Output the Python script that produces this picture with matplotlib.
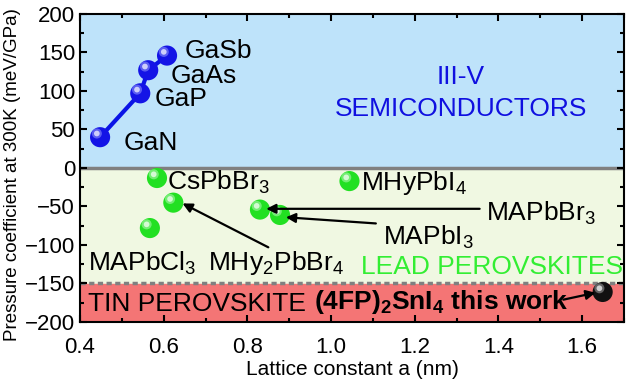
import matplotlib
matplotlib.use("Agg")
import matplotlib.pyplot as plt
import numpy as np
from matplotlib.ticker import MultipleLocator

plt.rcParams['font.family'] = ['Liberation Sans', 'DejaVu Sans']
plt.rcParams['mathtext.fontset'] = 'custom'
plt.rcParams['mathtext.rm'] = 'Liberation Sans'
plt.rcParams['mathtext.bf'] = 'Liberation Sans:bold'

# III-V semiconductors
iii_v_names = ["GaN", "GaP", "GaAs", "GaSb"]
iii_v_a = [0.448, 0.544, 0.563, 0.608]
iii_v_dp = [40, 97, 127, 146]

# Lead perovskites
pb_names = ["CsPbBr$_3$", "MHy$_2$PbBr$_4$", "MAPbCl$_3$", "MAPbBr$_3$", "MAPbI$_3$", "MHyPbI$_4$"]
pb_a = [0.584, 0.623, 0.567, 0.830, 0.878, 1.044]
pb_dp = [-13, -45, -78, -54, -61, -17]

# Tin perovskite (this work)
sn_a = [1.649]
sn_dp = [-161]

fig = plt.figure(figsize=(6.38, 3.89), dpi=100)
ax = fig.add_axes([80/638, 1 - 322/389, (624-80)/638, (322-14)/389])
ax.set_xlim(0.4, 1.7)
ax.set_ylim(-200, 200)

ax.axhspan(0, 200, color='#BEE3FA', zorder=0)
ax.axhspan(-150, 0, color='#F0F8E2', zorder=0)
ax.axhspan(-200, -150, color='#F47575', zorder=0)
ax.axhline(0, color='#808080', lw=2.5, zorder=1)
ax.axhline(-150, color='#808080', lw=2.5, ls=(0, (1.5, 1)), zorder=1)

def balls(x, y, color, light, s=210):
    ax.scatter(x, y, s=s, color=color, zorder=5, edgecolors='none')
    dx = 1.3 * 0.006
    dy = 400 * 0.012
    ax.scatter(np.array(x) - dx, np.array(y) + dy, s=s*0.25, color=light, zorder=6, edgecolors='none', alpha=0.45)
    ax.scatter(np.array(x) - dx, np.array(y) + dy, s=s*0.08, color='white', zorder=6, edgecolors='none', alpha=0.7)

ax.plot(iii_v_a, iii_v_dp, color='#0A14E6', lw=3, zorder=4)
balls(iii_v_a, iii_v_dp, '#1414E6', '#B0B8FF')
balls(pb_a, pb_dp, '#22E022', '#D8FFD8')
balls(sn_a, sn_dp, '#111111', '#C8C8C8')

fs = 19
ax.text(0.65, 152, "GaSb", fontsize=fs, va='center')
ax.text(0.617, 119, "GaAs", fontsize=fs, va='center')
ax.text(0.579, 90, "GaP", fontsize=fs, va='center')
ax.text(0.505, 33, "GaN", fontsize=fs, va='center')
ax.text(1.31, 118, "III-V", fontsize=19, color='#1010E0', ha='center', va='center')
ax.text(1.31, 77, "SEMICONDUCTORS", fontsize=19, color='#1010E0', ha='center', va='center')

ax.text(0.608, -19, pb_names[0], fontsize=fs, va='center')
ax.text(1.072, -19, pb_names[5], fontsize=fs, va='center')
ax.text(1.37, -59, pb_names[3], fontsize=fs, va='center')
ax.text(1.125, -90, pb_names[4], fontsize=fs, va='center')
ax.text(0.42, -124, pb_names[2], fontsize=fs, va='center')
ax.text(0.705, -124, pb_names[1], fontsize=fs, va='center')
ax.text(1.697, -128, "LEAD PEROVSKITES", fontsize=fs, color='#33EE33', ha='right', va='center')

t1 = ax.text(0.42, -186, "TIN PEROVSKITE ", fontsize=fs, va='baseline')
ax.annotate("(4FP)$_\\mathbf{2}$SnI$_\\mathbf{4}$ this work", xy=(1, 0), xycoords=t1,
            fontsize=fs, va='bottom', fontweight='bold', annotation_clip=False)

arrow = dict(arrowstyle='-|>', color='black', lw=1.6, mutation_scale=14, shrinkA=0, shrinkB=0)
ax.annotate("", xy=(0.645, -46), xytext=(0.85, -103), arrowprops=arrow, zorder=7)
ax.annotate("", xy=(0.845, -53), xytext=(1.355, -53), arrowprops=arrow, zorder=7)
ax.annotate("", xy=(0.892, -64), xytext=(1.107, -72), arrowprops=arrow, zorder=7)
ax.annotate("", xy=(1.632, -162), xytext=(1.555, -171), arrowprops=arrow, zorder=7)

ax.xaxis.set_minor_locator(MultipleLocator(0.1))
ax.yaxis.set_major_locator(MultipleLocator(50))
ax.yaxis.set_minor_locator(MultipleLocator(25))
ax.tick_params(which='both', direction='in', top=True, right=True, width=1.5)
ax.tick_params(which='major', length=5, labelsize=16)
ax.tick_params(which='minor', length=3)
ax.tick_params(axis='x', which='major', pad=11)
ax.set_xticks([0.4, 0.6, 0.8, 1.0, 1.2, 1.4, 1.6])
ax.set_xticklabels(["0.4", "0.6", "0.8", "1.0", "1.2", "1.4", "1.6"])
for s in ax.spines.values():
    s.set_linewidth(1.5)
ax.set_xlabel("Lattice constant a (nm)", fontsize=15, labelpad=1)
ax.set_ylabel("Pressure coefficient at 300K (meV/GPa)", fontsize=13.5)
ax.yaxis.set_label_coords(-0.108, 0.48)

fig.savefig("out.png", dpi=100)
